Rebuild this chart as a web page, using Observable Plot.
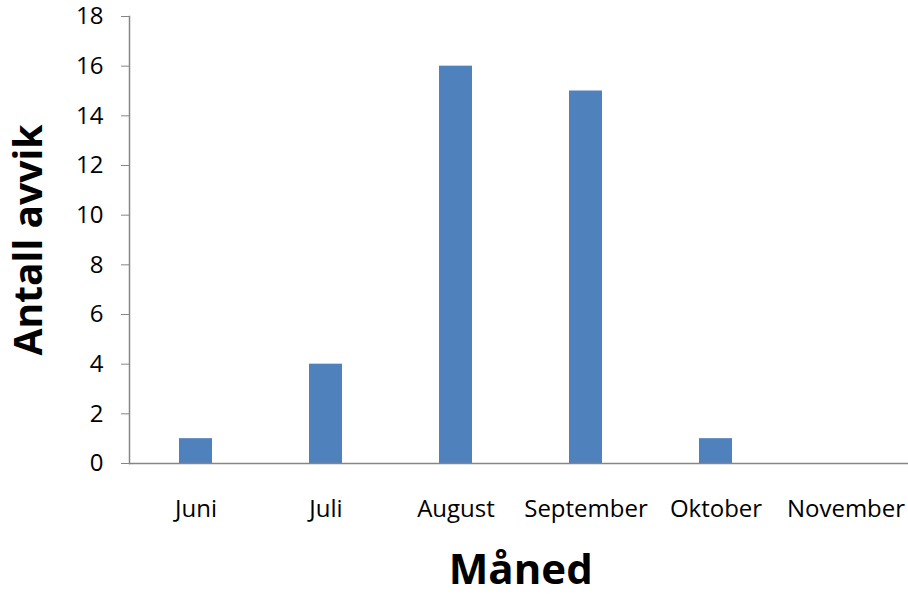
<!DOCTYPE html>
<html>
<head>
<meta charset="utf-8">
<script src="https://cdn.jsdelivr.net/npm/d3@7"></script>
<script src="https://cdn.jsdelivr.net/npm/@observablehq/plot@0.6"></script>
<style>
  html, body { margin: 0; padding: 0; background: #fff; overflow: hidden; }
  #chart svg { font-family: "Open Sans", sans-serif; overflow: visible; }
  #chart [aria-label="y-axis label"] text { font-size: 39px; font-weight: bold; fill: #000; }
  #chart [aria-label="x-axis label"] text { font-size: 42px; font-weight: bold; fill: #000; }
  #chart [aria-label="y-axis tick label"] text,
  #chart [aria-label="x-axis tick label"] text { fill: #000; font-size: 24px; }
</style>
</head>
<body>
<div id="chart"></div>
<script>
const months = ["Juni", "Juli", "August", "September", "Oktober", "November"];
const counts = [1, 4, 16, 15, 1, 0];
const yTicks = [0, 2, 4, 6, 8, 10, 12, 14, 16, 18];

const data = months.map((m, i) => ({ month: m, count: counts[i] }));

const chart = Plot.plot({
  width: 908,
  height: 594,
  marginTop: 16,
  marginBottom: 131,
  marginLeft: 129,
  marginRight: -3.5,
  style: { fontSize: "24px", fontFamily: "Open Sans, sans-serif", background: "#fff", color: "#000" },
  x: { domain: months, paddingInner: 0.75, paddingOuter: 0.375, label: "Måned" },
  y: { domain: [0, 18], label: "Antall avvik" },
  marks: [
    Plot.barY(data, { x: "month", y: "count", fill: "#4F81BD" }),
    Plot.ruleY([0], { stroke: "#868686", strokeWidth: 1.5 }),
    Plot.frame({ anchor: "left", stroke: "#868686", strokeWidth: 1.5 }),
    Plot.axisY({ ticks: yTicks, tickSize: 8, tickPadding: 18, stroke: "#868686",
      label: "Antall avvik", labelAnchor: "center", labelArrow: "none", labelOffset: 115 }),
    Plot.axisX({ tickSize: 0, tickPadding: 36,
      label: "Måned", labelAnchor: "center", labelArrow: "none", labelOffset: 120 })
  ]
});
document.getElementById("chart").appendChild(chart);
</script>
</body>
</html>
